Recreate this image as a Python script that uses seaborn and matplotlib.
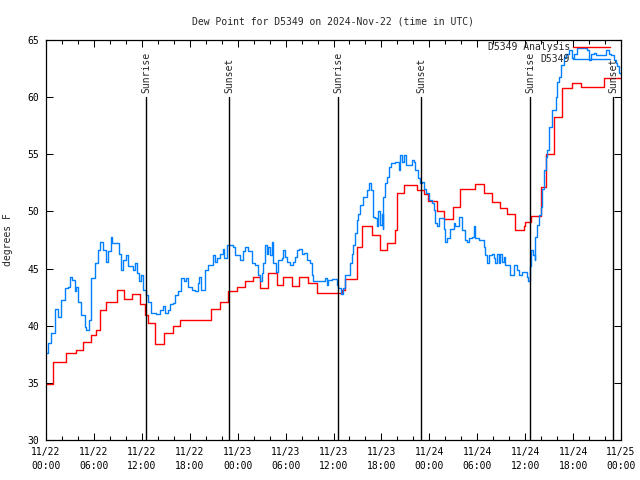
import matplotlib
matplotlib.use("Agg")
import matplotlib.pyplot as plt
import matplotlib.dates as mdates
import pandas as pd
import seaborn as sns

# hours after 2024-11-22 00:00 UTC
obs_hours = [0.0, 0.23, 0.65, 1.07, 1.48, 1.91, 2.32, 2.74, 2.95, 3.24, 3.58, 3.79, 3.99, 4.42, 4.83,
             5.04, 5.37, 5.67, 6.09, 6.50, 6.80, 7.13, 7.55, 7.75, 8.18, 8.31, 8.81, 9.10, 9.35, 9.64,
             10.06, 10.26, 10.56, 10.89, 11.19, 11.44, 11.64, 11.94, 12.15, 12.48, 12.77, 13.20, 13.83,
             14.24, 14.65, 14.87, 15.28, 15.50, 15.91, 16.12, 16.54, 16.96, 17.25, 17.59, 17.79, 18.22,
             18.63, 19.05, 19.17, 19.47, 19.89, 20.30, 20.73, 20.93, 21.14, 21.36, 21.77, 22.11, 22.31,
             22.61, 23.11, 23.44, 23.65, 24.07, 24.28, 24.69, 24.91, 25.32, 25.75, 26.16, 26.57, 26.79,
             27.00, 27.20, 27.42, 27.63, 27.83, 28.04, 28.26, 28.46, 28.80, 29.08, 29.51, 29.71, 29.92,
             30.14, 30.55, 30.97, 31.18, 31.39, 31.68, 32.02, 32.31, 32.65, 33.06, 33.27, 33.48, 34.32,
             34.94, 35.16, 35.36, 35.78, 36.20, 36.41, 36.61, 36.95, 37.24, 37.45, 37.87, 38.08, 38.29,
             38.49, 38.71, 38.92, 39.12, 39.34, 39.75, 40.18, 40.46, 40.68, 40.93, 41.22, 41.43, 41.63,
             41.84, 42.06, 42.18, 42.26, 42.47, 42.69, 42.89, 43.19, 43.51, 43.73, 44.14, 44.35, 44.57,
             44.86, 45.07, 45.61, 45.82, 46.11, 46.24, 46.52, 46.78, 47.08, 47.28, 47.62, 47.90, 48.33,
             48.53, 48.75, 48.96, 49.16, 49.59, 49.79, 50.00, 50.21, 50.63, 51.04, 51.25, 51.67, 52.10,
             52.51, 52.72, 52.92, 53.35, 53.55, 53.76, 54.18, 54.81, 55.02, 55.23, 55.43, 55.86, 56.06,
             56.27, 56.49, 56.69, 56.90, 57.11, 57.31, 57.53, 57.94, 58.16, 58.57, 58.99, 59.20, 59.62,
             60.25, 60.38, 60.58, 60.75, 61.00, 61.17, 61.29, 61.51, 61.71, 61.92, 62.13, 62.33, 62.55,
             62.76, 62.96, 63.39, 63.80, 64.01, 64.22, 64.43, 64.84, 65.06, 65.47, 65.90, 66.10, 66.52,
             67.78, 67.98, 68.19, 68.61, 68.82, 70.08, 70.49, 70.70, 71.12, 71.33, 71.54, 71.74, 71.96]
obs_dewpt = [37.6, 38.5, 39.4, 41.5, 40.8, 42.25, 43.3, 43.4, 44.3, 44.0, 43.0, 43.4, 42.1, 40.9, 39.9,
             39.6, 40.5, 44.2, 45.5, 46.6, 47.35, 46.6, 45.6, 46.5, 47.8, 47.2, 47.2, 46.3, 44.9, 45.75,
             46.2, 45.2, 45.2, 44.9, 45.5, 44.6, 43.9, 44.4, 43.1, 42.7, 42.1, 41.1, 41.0,
             41.4, 41.7, 41.1, 41.4, 41.9, 41.95, 42.7, 43.0, 44.15, 43.9, 44.15, 43.4, 43.1,
             43.0, 43.7, 44.3, 43.1, 44.9, 45.3, 45.3, 46.2, 45.6, 45.9, 46.3, 46.7, 45.9,
             47.1, 47.1, 46.9, 46.2, 46.2, 45.75, 46.5, 46.85, 46.5, 45.5, 45.3, 44.4, 43.9,
             44.6, 45.5, 47.1, 46.3, 46.9, 46.2, 47.35, 45.5, 44.7, 45.75, 45.9, 46.6, 46.0,
             45.6, 45.3, 45.6, 46.0, 46.6, 46.7, 46.3, 46.4, 45.75, 45.5, 44.4, 43.9, 43.9,
             44.15, 43.6, 44.0, 44.06, 44.06, 43.6, 43.3, 42.8, 43.3, 44.4, 44.4, 45.5, 46.3,
             47.1, 48.1, 49.25, 49.8, 50.55, 51.3, 51.9, 52.5, 51.9, 49.5, 49.4, 48.7, 50.0,
             48.8, 49.8, 48.5, 51.3, 52.5, 53.0, 53.9, 54.2, 54.2, 54.35, 53.6, 54.9, 54.35,
             54.9, 54.1, 54.1, 54.5, 54.35, 53.6, 52.9, 52.5, 52.6, 52.0, 51.6, 51.0, 50.7,
             50.1, 48.95, 48.7, 49.4, 49.4, 48.5, 47.35, 47.65, 48.5, 48.95, 48.7, 49.5, 48.4,
             47.5, 47.35, 47.65, 47.8, 48.7, 47.65, 47.5, 46.9, 46.2, 45.5, 46.2, 46.3, 45.9,
             45.5, 46.3, 45.5, 46.3, 45.6, 46.0, 45.3, 45.3, 44.4, 45.3, 44.9, 44.4, 44.7,
             44.3, 43.9, 45.2, 46.6, 46.2, 45.75, 47.8, 48.8, 49.7, 50.4, 52.0, 53.6, 54.8,
             55.4, 57.4, 58.9, 60.0, 61.35, 61.8, 62.8, 63.5, 63.8, 64.1, 63.4, 63.8, 64.3,
             64.1, 63.25, 63.8, 63.9, 63.7, 64.1, 63.8, 63.7, 63.25, 62.95, 62.7, 62.1, 61.9]

ana_hours = [0.0, 0.85, 2.53, 3.70, 4.62, 5.67, 6.30, 6.71, 7.55, 8.88, 9.72, 10.77, 11.73, 12.36,
             12.77, 13.70, 14.74, 15.91, 16.75, 20.60, 21.77, 22.81, 23.86, 24.91, 25.87, 26.79,
             27.83, 28.88, 29.71, 30.77, 31.72, 32.85, 33.90, 37.04, 37.45, 38.90, 39.55, 40.80,
             41.84, 42.69, 43.73, 43.94, 44.77, 46.45, 47.28, 47.87, 48.96, 49.79, 50.97, 51.88,
             53.76, 54.81, 55.86, 56.90, 57.74, 58.78, 59.82, 60.04, 60.75, 61.92, 62.67, 63.55,
             64.55, 65.81, 66.94, 69.82, 71.96]
ana_dewpt = [34.9, 36.8, 37.6, 37.9, 38.6, 39.2, 39.6, 41.4, 42.1, 43.1, 42.3, 42.8, 41.9, 40.9,
             40.2, 38.4, 39.35, 40.0, 40.5, 41.5, 42.05, 43.05, 43.4, 43.9, 44.3, 43.3,
             44.6, 43.6, 44.25, 43.5, 44.3, 43.75, 42.9, 43.1, 44.06, 46.9, 48.7, 47.9,
             46.6, 47.2, 48.4, 51.6, 52.3, 51.9, 51.5, 50.9, 50.0, 49.3, 50.4, 52.0,
             52.4, 51.65, 50.85, 50.3, 49.8, 48.4, 48.7, 49.05, 49.6, 52.1, 55.0, 58.3,
             60.8, 61.2, 60.9, 61.7, 61.7]

sun_hours = [12.52, 22.94, 36.61, 46.99, 60.66, 70.99]
sun_labels = ["Sunrise", "Sunset", "Sunrise", "Sunset", "Sunrise", "Sunset"]

start = pd.Timestamp("2024-11-22 00:00")
obs = pd.DataFrame({"time": start + pd.to_timedelta(obs_hours, unit="h"), "dewpt": obs_dewpt})
ana = pd.DataFrame({"time": start + pd.to_timedelta(ana_hours, unit="h"), "dewpt": ana_dewpt})
sun_times = start + pd.to_timedelta(sun_hours, unit="h")

sns.set_style("ticks")
plt.rcParams["font.family"] = ["DejaVu Sans Mono"]
fs = 7

fig = plt.figure(figsize=(6.4, 4.8), dpi=100)
ax = fig.add_axes([46 / 640, 40 / 480, 575 / 640, 400 / 480])

sns.lineplot(data=ana, x="time", y="dewpt", color="#ff0000", lw=1.0, drawstyle="steps-post",
             estimator=None, label="D5349 Analysis", ax=ax)
sns.lineplot(data=obs, x="time", y="dewpt", color="#0080ff", lw=1.0, drawstyle="steps-post",
             estimator=None, label="D5349", ax=ax)

ymin, ymax = 30, 65
for t, lab in zip(sun_times, sun_labels):
    ax.axvline(t, ymin=0, ymax=(60 - ymin) / (ymax - ymin), color="black", lw=1.0)
    ax.text(t, 60.4, lab, rotation=90, ha="center", va="bottom", fontsize=fs)

ax.set_xlim(start, start + pd.Timedelta(hours=72))
ax.set_ylim(ymin, ymax)
ax.set_yticks(range(30, 66, 5))
ax.xaxis.set_major_locator(mdates.HourLocator(byhour=[0, 6, 12, 18]))
ax.xaxis.set_minor_locator(mdates.HourLocator(byhour=range(0, 24, 2)))
ax.xaxis.set_major_formatter(mdates.DateFormatter("%m/%d\n%H:%M"))

ax.tick_params(which="both", direction="in", top=True, right=True, width=0.75, colors="black",
               labelsize=fs)
ax.tick_params(which="major", length=5)
ax.tick_params(which="minor", length=3)
ax.tick_params(axis="x", pad=5)
ax.tick_params(axis="y", pad=5)
for lbl in ax.get_xticklabels():
    lbl.set_linespacing(1.5)
for sp in ax.spines.values():
    sp.set_visible(True)
    sp.set_color("black")
    sp.set_linewidth(0.9)

ax.set_xlabel("")
ax.set_ylabel("degrees F", fontsize=fs)
ax.yaxis.set_label_coords(-0.057, 0.5)
ax.set_title("Dew Point for D5349 on 2024-Nov-22 (time in UTC)", fontsize=fs, pad=11)

ax.legend(loc="upper right", bbox_to_anchor=(0.981, 0.995), frameon=False, markerfirst=False,
          fontsize=fs, handlelength=3.8, handletextpad=0.3, labelspacing=0.2,
          borderpad=0, borderaxespad=0)

fig.savefig("out.png", dpi=100)
